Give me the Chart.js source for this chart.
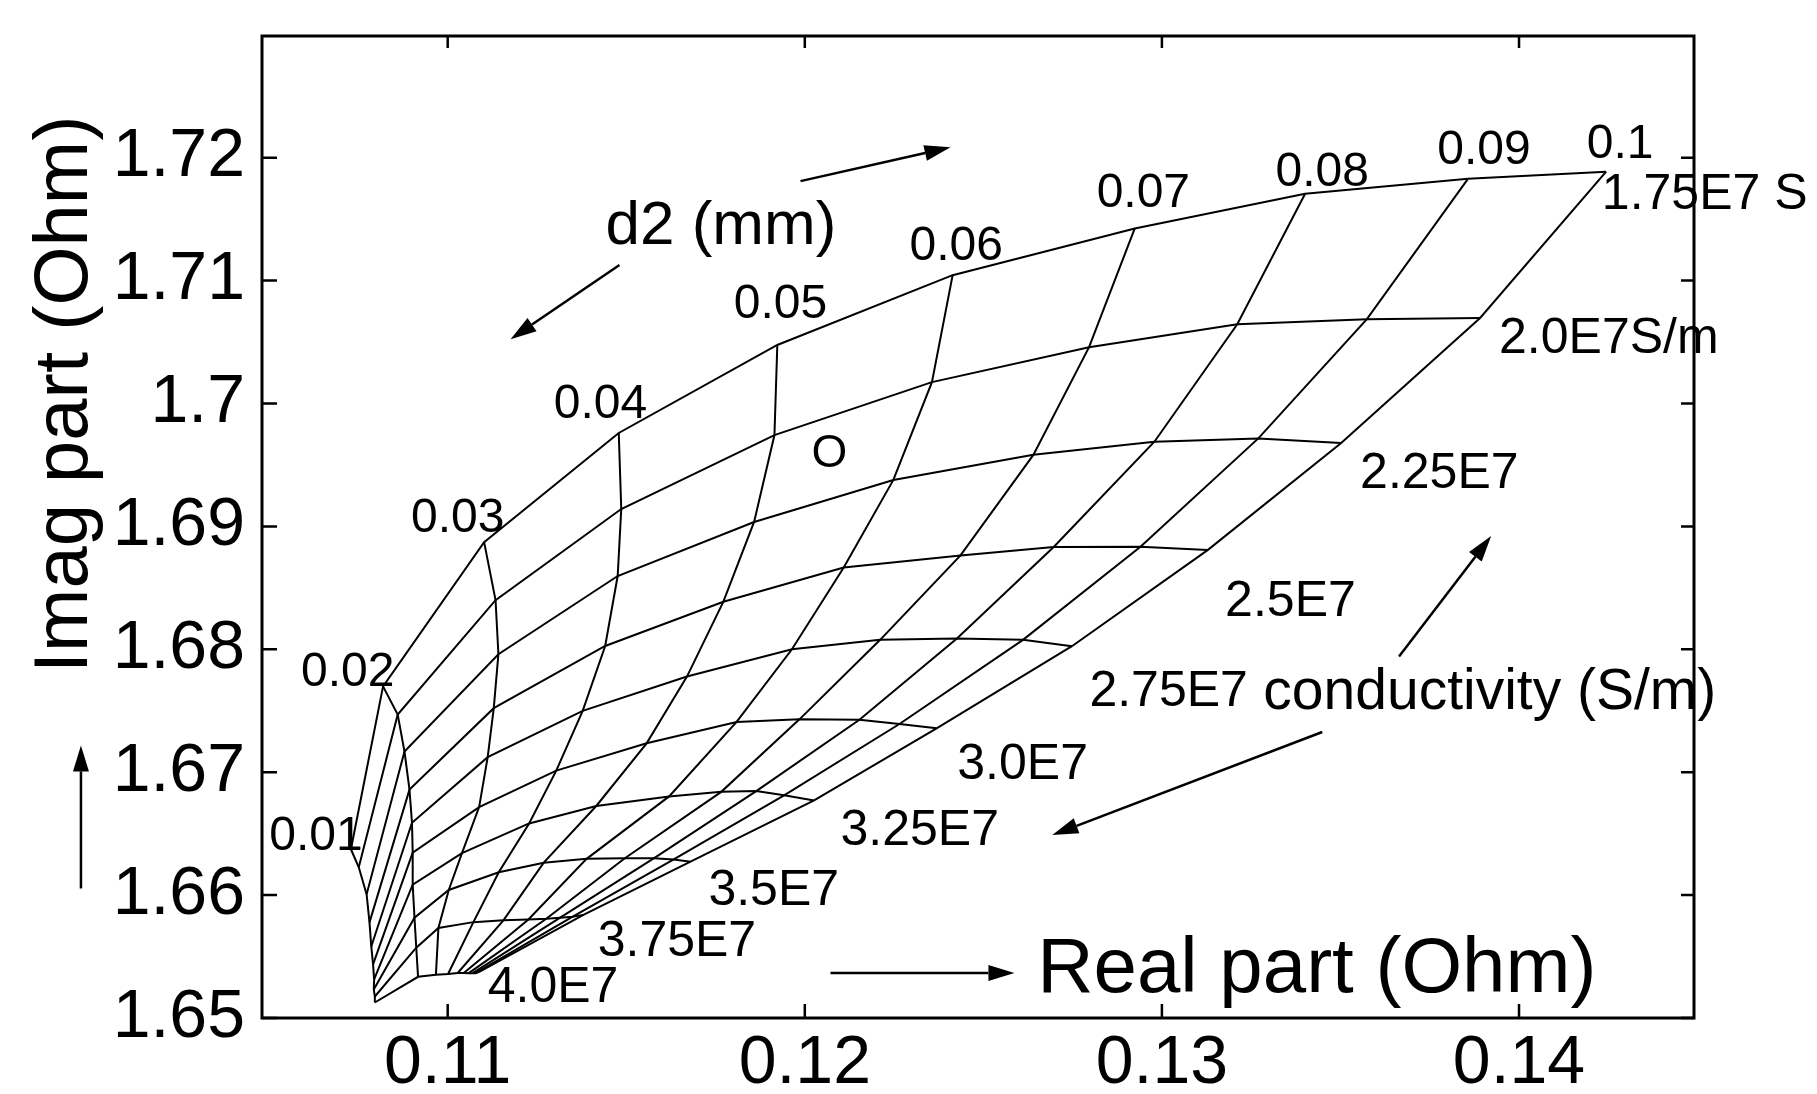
<!DOCTYPE html>
<html lang="en">
<head>
    <meta charset="UTF-8">
    <title>Impedance grid: d2 vs conductivity</title>
    <script src="https://cdn.jsdelivr.net/npm/chart.js"></script>
    <style>
        html, body { margin: 0; padding: 0; background: #fff; }
        canvas { display: block; }
    </style>
</head>
<body>
    <canvas id="gridChart" width="1817" height="1094"></canvas>
    <script>
        // coating thickness d2 (mm) and conductivity (x 1E7 S/m)
        const d2Values = [0.01, 0.02, 0.03, 0.04, 0.05, 0.06, 0.07, 0.08, 0.09, 0.1];
        const sigmaValues = [1.75, 2.0, 2.25, 2.5, 2.75, 3.0, 3.25, 3.5, 3.75, 4.0];

        // real / imag part (Ohm) on each conductivity curve, one value per d2
        const re175 = [0.10729, 0.10819, 0.11102, 0.11479, 0.11923, 0.12414, 0.12924, 0.13401, 0.13857, 0.14244];
        const im175 = [1.66373, 1.67698, 1.68872, 1.69760, 1.70476, 1.71044, 1.71424, 1.71707, 1.71828, 1.71886];
        const re200 = [0.10751, 0.10860, 0.11134, 0.11486, 0.11915, 0.12356, 0.12796, 0.13211, 0.13574, 0.13891];
        const im200 = [1.66226, 1.67469, 1.68400, 1.69141, 1.69743, 1.70174, 1.70458, 1.70645, 1.70686, 1.70696];
        const re225 = [0.10773, 0.10879, 0.11142, 0.11476, 0.11858, 0.12248, 0.12640, 0.12979, 0.13270, 0.13502];
        const im225 = [1.66006, 1.67168, 1.67960, 1.68596, 1.69036, 1.69378, 1.69582, 1.69689, 1.69716, 1.69678];
        const re250 = [0.10781, 0.10893, 0.11129, 0.11441, 0.11772, 0.12109, 0.12436, 0.12697, 0.12940, 0.13128];
        const im250 = [1.65778, 1.66858, 1.67521, 1.68027, 1.68387, 1.68665, 1.68764, 1.68832, 1.68835, 1.68807];
        const re275 = [0.10786, 0.10900, 0.11112, 0.11378, 0.11670, 0.11964, 0.12211, 0.12426, 0.12611, 0.12748];
        const im275 = [1.65582, 1.66589, 1.67122, 1.67499, 1.67778, 1.68000, 1.68077, 1.68088, 1.68077, 1.68025];
        const re300 = [0.10791, 0.10902, 0.11088, 0.11304, 0.11557, 0.11809, 0.11985, 0.12153, 0.12265, 0.12369];
        const im300 = [1.65436, 1.66345, 1.66716, 1.67013, 1.67235, 1.67409, 1.67430, 1.67427, 1.67392, 1.67357];
        const re325 = [0.10794, 0.10902, 0.11040, 0.11228, 0.11416, 0.11620, 0.11766, 0.11864, 0.11942, 0.12026];
        const im325 = [1.65314, 1.66085, 1.66342, 1.66583, 1.66725, 1.66803, 1.66840, 1.66846, 1.66812, 1.66770];
        const re350 = [0.10793, 0.10907, 0.11003, 0.11143, 0.11269, 0.11389, 0.11496, 0.11577, 0.11633, 0.11680];
        const im350 = [1.65232, 1.65816, 1.66042, 1.66186, 1.66264, 1.66295, 1.66300, 1.66299, 1.66290, 1.66272];
        const re375 = [0.10796, 0.10912, 0.10974, 0.11072, 0.11156, 0.11226, 0.11276, 0.11315, 0.11349, 0.11380];
        const im375 = [1.65175, 1.65572, 1.65733, 1.65780, 1.65795, 1.65801, 1.65808, 1.65816, 1.65823, 1.65839];
        const re400 = [0.10796, 0.10917, 0.10967, 0.11001, 0.11028, 0.11045, 0.11059, 0.11070, 0.11078, 0.11087];
        const im400 = [1.65126, 1.65335, 1.65351, 1.65358, 1.65366, 1.65366, 1.65365, 1.65365, 1.65365, 1.65373];

        const xTickValues = [0.11, 0.12, 0.13, 0.14];
        const xTickLabels = ['0.11', '0.12', '0.13', '0.14'];
        const yTickValues = [1.65, 1.66, 1.67, 1.68, 1.69, 1.70, 1.71, 1.72];
        const yTickLabels = ['1.65', '1.66', '1.67', '1.68', '1.69', '1.7', '1.71', '1.72'];

        const FONT = "'Liberation Sans', Arial, Helvetica, sans-serif";

        const realBySigma = [re175, re200, re225, re250, re275, re300, re325, re350, re375, re400];
        const imagBySigma = [im175, im200, im225, im250, im275, im300, im325, im350, im375, im400];

        function curve(points) {
            return {
                data: points,
                showLine: true,
                borderColor: '#000',
                borderWidth: 2,
                pointRadius: 0,
                fill: false,
                tension: 0
            };
        }

        const datasets = [];
        // constant conductivity curves (d2 varies)
        sigmaValues.forEach((s, i) => {
            datasets.push(curve(d2Values.map((d, j) => ({ x: realBySigma[i][j], y: imagBySigma[i][j] }))));
        });
        // constant d2 curves (conductivity varies)
        d2Values.forEach((d, j) => {
            datasets.push(curve(sigmaValues.map((s, i) => ({ x: realBySigma[i][j], y: imagBySigma[i][j] }))));
        });

        // text notes placed in data units
        const notes = [
            { text: '0.01', x: 0.10631, y: 1.66473, size: 48, align: 'center' },
            { text: '0.02', x: 0.10720, y: 1.67806, size: 48, align: 'center' },
            { text: '0.03', x: 0.11028, y: 1.69061, size: 48, align: 'center' },
            { text: '0.04', x: 0.11428, y: 1.69989, size: 48, align: 'center' },
            { text: '0.05', x: 0.11932, y: 1.70801, size: 48, align: 'center' },
            { text: '0.06', x: 0.12424, y: 1.71279, size: 48, align: 'center' },
            { text: '0.07', x: 0.12948, y: 1.71708, size: 48, align: 'center' },
            { text: '0.08', x: 0.13449, y: 1.71877, size: 48, align: 'center' },
            { text: '0.09', x: 0.13902, y: 1.72055, size: 48, align: 'center' },
            { text: '0.1', x: 0.14283, y: 1.72104, size: 48, align: 'center' },
            { text: '1.75E7 S', x: 0.14232, y: 1.71698, size: 50, align: 'left' },
            { text: '2.0E7S/m', x: 0.13944, y: 1.70523, size: 50, align: 'left' },
            { text: '2.25E7', x: 0.13555, y: 1.69425, size: 50, align: 'left' },
            { text: '2.5E7', x: 0.13177, y: 1.68383, size: 50, align: 'left' },
            { text: '2.75E7', x: 0.12797, y: 1.67649, size: 50, align: 'left' },
            { text: 'conductivity (S/m)', x: 0.13284, y: 1.67640, size: 57, align: 'left' },
            { text: '3.0E7', x: 0.12427, y: 1.67054, size: 50, align: 'left' },
            { text: '3.25E7', x: 0.12100, y: 1.66516, size: 50, align: 'left' },
            { text: '3.5E7', x: 0.11730, y: 1.66035, size: 50, align: 'left' },
            { text: '3.75E7', x: 0.11420, y: 1.65618, size: 50, align: 'left' },
            { text: '4.0E7', x: 0.11112, y: 1.65242, size: 50, align: 'left' },
            { text: 'd2 (mm)', x: 0.11442, y: 1.71437, size: 62, align: 'left' },
            { text: 'O', x: 0.12069, y: 1.69585, size: 46, align: 'center' },
            { text: 'Real part (Ohm)', x: 0.12651, y: 1.65390, size: 78, align: 'left' }
        ];
        const yTitle = { text: 'Imag part (Ohm)', x: 0.09931, y: 1.70075, size: 76 };

        const arrows = [
            { from: [0.11988, 1.71809], to: [0.12408, 1.72085] },
            { from: [0.11481, 1.71127], to: [0.11176, 1.70523] },
            { from: [0.13664, 1.67941], to: [0.13922, 1.68921] },
            { from: [0.13449, 1.67327], to: [0.12693, 1.66488] },
            { from: [0.12072, 1.65366], to: [0.12587, 1.65366] },
            { from: [0.09973, 1.66054], to: [0.09973, 1.67218] }
        ];

        function drawArrow(ctx, x1, y1, x2, y2) {
            const ang = Math.atan2(y2 - y1, x2 - x1);
            const len = 26, half = 8;
            const bx = x2 - len * Math.cos(ang), by = y2 - len * Math.sin(ang);
            ctx.beginPath();
            ctx.moveTo(x1, y1);
            ctx.lineTo(bx, by);
            ctx.stroke();
            ctx.beginPath();
            ctx.moveTo(x2, y2);
            ctx.lineTo(bx + half * Math.sin(ang), by - half * Math.cos(ang));
            ctx.lineTo(bx - half * Math.sin(ang), by + half * Math.cos(ang));
            ctx.closePath();
            ctx.fill();
        }

        const decorations = {
            id: 'decorations',
            afterDraw(chart) {
                const { ctx, chartArea: a, scales } = chart;
                const xs = scales.x, ys = scales.y;
                ctx.save();
                ctx.strokeStyle = '#000';
                ctx.fillStyle = '#000';

                // frame + inward ticks on all sides
                ctx.lineWidth = 3;
                ctx.strokeRect(a.left, a.top, a.right - a.left, a.bottom - a.top);
                ctx.lineWidth = 2.5;
                ctx.beginPath();
                xTickValues.forEach(v => {
                    const px = xs.getPixelForValue(v);
                    ctx.moveTo(px, a.bottom); ctx.lineTo(px, a.bottom - 14);
                    ctx.moveTo(px, a.top); ctx.lineTo(px, a.top + 12);
                });
                yTickValues.forEach(v => {
                    const py = ys.getPixelForValue(v);
                    ctx.moveTo(a.left, py); ctx.lineTo(a.left + 15, py);
                    ctx.moveTo(a.right, py); ctx.lineTo(a.right - 13, py);
                });
                ctx.stroke();

                // labels
                ctx.textBaseline = 'middle';
                notes.forEach(n => {
                    ctx.font = n.size + 'px ' + FONT;
                    ctx.textAlign = n.align;
                    ctx.fillText(n.text, xs.getPixelForValue(n.x), ys.getPixelForValue(n.y));
                });

                ctx.save();
                ctx.translate(xs.getPixelForValue(yTitle.x), ys.getPixelForValue(yTitle.y));
                ctx.rotate(-Math.PI / 2);
                ctx.font = yTitle.size + 'px ' + FONT;
                ctx.textAlign = 'center';
                ctx.fillText(yTitle.text, 0, 0);
                ctx.restore();

                // arrows
                ctx.lineWidth = 2.5;
                arrows.forEach(ar => {
                    drawArrow(ctx,
                        xs.getPixelForValue(ar.from[0]), ys.getPixelForValue(ar.from[1]),
                        xs.getPixelForValue(ar.to[0]), ys.getPixelForValue(ar.to[1]));
                });
                ctx.restore();
            }
        };

        new Chart(document.getElementById('gridChart').getContext('2d'), {
            type: 'scatter',
            data: { datasets: datasets },
            options: {
                responsive: false,
                animation: false,
                layout: { padding: { top: 36, right: 123, left: 0, bottom: 0 } },
                plugins: { legend: { display: false }, tooltip: { enabled: false } },
                scales: {
                    x: {
                        type: 'linear',
                        min: 0.1048,
                        max: 0.1449,
                        grid: { display: false, drawTicks: false },
                        border: { display: false },
                        afterBuildTicks: s => { s.ticks = xTickValues.map(v => ({ value: v })); },
                        afterFit: s => { s.height = 76; s.paddingLeft = 0; s.paddingRight = 0; },
                        ticks: {
                            autoSkip: false,
                            maxRotation: 0,
                            padding: 5,
                            color: '#000',
                            font: { family: FONT, size: 68 },
                            callback: (v, i) => xTickLabels[i]
                        }
                    },
                    y: {
                        type: 'linear',
                        min: 1.65,
                        max: 1.7299,
                        grid: { display: false, drawTicks: false },
                        border: { display: false },
                        afterBuildTicks: s => { s.ticks = yTickValues.map(v => ({ value: v })); },
                        afterFit: s => { s.width = 262; s.paddingTop = 0; s.paddingBottom = 0; },
                        ticks: {
                            autoSkip: false,
                            padding: 17,
                            color: '#000',
                            font: { family: FONT, size: 68 },
                            callback: (v, i) => yTickLabels[i]
                        }
                    }
                }
            },
            plugins: [decorations]
        });
    </script>
</body>
</html>
